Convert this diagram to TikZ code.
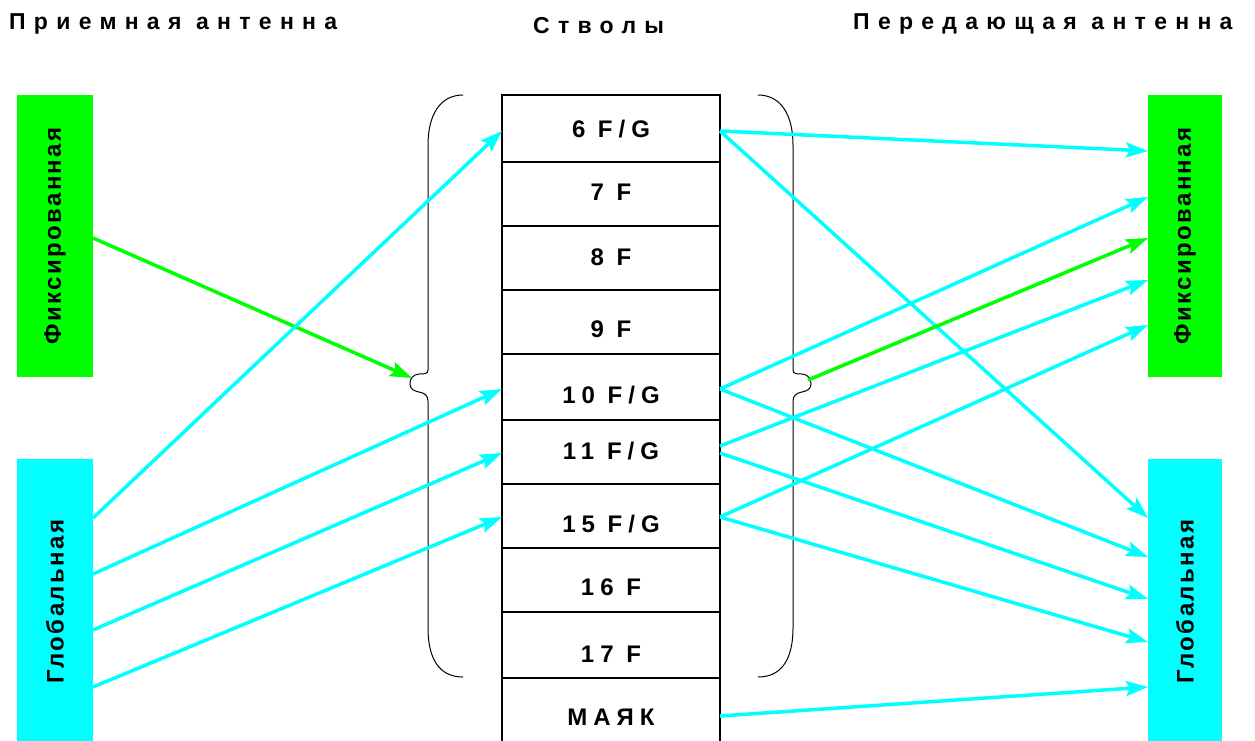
\documentclass[tikz,border=0pt]{standalone}
\usepackage{fontspec}
\setmainfont{Liberation Sans}
\newfontfamily\headfont[LetterSpace=36]{Liberation Sans}
\newfontfamily\cellfont[LetterSpace=25]{Liberation Sans}
\newfontfamily\sidefont[LetterSpace=10]{Liberation Sans}
\usetikzlibrary{arrows.meta,calc}
\definecolor{aqua}{RGB}{0,255,255}
\definecolor{lime}{RGB}{0,255,0}
\tikzset{
  head/.style={font=\headfont\bfseries\fontsize{23}{27}\selectfont, anchor=base west, inner sep=0pt},
  cell/.style={draw=black, line width=1.2pt, minimum width=218pt, minimum height=#1, inner sep=0pt, outer sep=0pt},
  celltext/.style={font=\cellfont\bfseries\fontsize{24}{28}\selectfont, anchor=base, inner sep=0pt},
  antbox/.style={minimum width=76pt, minimum height=#1, inner sep=0pt, outer sep=0pt},
  sidetext/.style={font=\sidefont\bfseries\fontsize{24}{28}\selectfont, rotate=90, inner sep=0pt},
  bracepath/.style={draw=black, line width=1pt},
  link/.style={line width=3.5pt, -{Stealth[length=22pt,width=15pt,inset=4pt]}},
}
\begin{document}
\begin{tikzpicture}[x=1pt,y=-1pt]
\useasboundingbox[fill=white] (0,0) rectangle (1255,740);

% column headings
\node[head] (hrx) at (9,29) {Приемная антенна};
\node[head] (hch) at (533,33) {Стволы};
\node[head] (htx) at (853,29) {Передающая антенна};

% antenna blocks
\node[antbox=282pt, fill=lime] (fixL) at (55,236) {};
\node[antbox=285pt, fill=aqua] (globL) at (55,601.5) {};
\node[antbox=282pt, fill=lime, minimum width=74pt] (fixR) at (1185,236) {};
\node[antbox=285pt, fill=aqua, minimum width=74pt] (globR) at (1185,601.5) {};
\node[sidetext] (fixLt) at (fixL) {Фиксированная};
\node[sidetext] (globLt) at (globL) {Глобальная};
\node[sidetext] (fixRt) at (fixR) {Фиксированная};
\node[sidetext] (globRt) at (globR) {Глобальная};

% transponder table
\node[cell=67pt] (r6)  at (611,128.5) {};
\node[cell=64pt] (r7)  at (611,194) {};
\node[cell=64pt] (r8)  at (611,258) {};
\node[cell=64pt] (r9)  at (611,322) {};
\node[cell=66pt] (r10) at (611,387) {};
\node[cell=64pt] (r11) at (611,452) {};
\node[cell=64pt] (r15) at (611,516) {};
\node[cell=64pt] (r16) at (611,580) {};
\node[cell=66pt] (r17) at (611,645) {};
\node[cell=66pt] (rM)  at (611,711) {};
\node[celltext] (t6)  at (611,137) {6 F/G};
\node[celltext] (t7)  at (611,200) {7 F};
\node[celltext] (t8)  at (611,265) {8 F};
\node[celltext] (t9)  at (611,337) {9 F};
\node[celltext] (t10) at (611,403) {10 F/G};
\node[celltext] (t11) at (611,459) {11 F/G};
\node[celltext] (t15) at (611,532) {15 F/G};
\node[celltext] (t16) at (611,595) {16 F};
\node[celltext] (t17) at (611,662) {17 F};
\node[celltext] (tM)  at (611,725) {МАЯК};

% curly braces around the F channels
\draw[bracepath] (463,95) .. controls (440,95) and (428,115) .. (428,145)
  -- (428,370) .. controls (428,374) and (424,374) .. (419,374)
  .. controls (412,375) and (410,379) .. (410,384)
  .. controls (410,389) and (414,391) .. (419,392)
  .. controls (425,393) and (428,396) .. (428,401)
  -- (428,628) .. controls (428,660) and (440,677) .. (463,677);
\begin{scope}[shift={(1221,0)}, xscale=-1]
\draw[bracepath] (463,95) .. controls (440,95) and (428,115) .. (428,145)
  -- (428,370) .. controls (428,374) and (424,374) .. (419,374)
  .. controls (412,375) and (410,379) .. (410,384)
  .. controls (410,389) and (414,391) .. (419,392)
  .. controls (425,393) and (428,396) .. (428,401)
  -- (428,628) .. controls (428,660) and (440,677) .. (463,677);
\end{scope}
\coordinate (lcusp) at (412,378);
\coordinate (rcusp) at (808,380);

% receive side
\draw[link, lime] ($(fixL.north east)+(0,143)$) -- (lcusp);
\draw[link, aqua] ($(globL.north east)+(0,59)$)  -- ($(r6.west)+(0,2.5)$);
\draw[link, aqua] ($(globL.north east)+(0,115)$) -- ($(r10.west)+(0,2)$);
\draw[link, aqua] ($(globL.north east)+(0,171)$) -- ($(r11.west)+(0,1)$);
\draw[link, aqua] ($(globL.north east)+(0,228)$) -- ($(r15.west)+(0,1)$);

% transmit side
\draw[link, aqua] ($(r6.east)+(0,2.5)$) -- ($(fixR.north west)+(0,56)$);
\draw[link, aqua] ($(r6.east)+(0,2.5)$) -- ($(globR.north west)+(0,59)$);
\draw[link, aqua] ($(r10.east)+(0,2)$) -- ($(fixR.north west)+(0,102)$);
\draw[link, aqua] ($(r10.east)+(0,2)$) -- ($(globR.north west)+(0,98)$);
\draw[link, aqua] ($(r11.east)+(0,-6)$) -- ($(fixR.north west)+(0,185)$);
\draw[link, aqua] ($(r11.east)+(0,1)$) -- ($(globR.north west)+(0,140)$);
\draw[link, aqua] ($(r15.east)+(0,1)$) -- ($(fixR.north west)+(0,230)$);
\draw[link, aqua] ($(r15.east)+(0,1)$) -- ($(globR.north west)+(0,183)$);
\draw[link, lime] (rcusp) -- ($(fixR.north west)+(0,143)$);
\draw[link, aqua] ($(rM.east)+(0,5)$) -- ($(globR.north west)+(0,228)$);
\end{tikzpicture}
\end{document}
